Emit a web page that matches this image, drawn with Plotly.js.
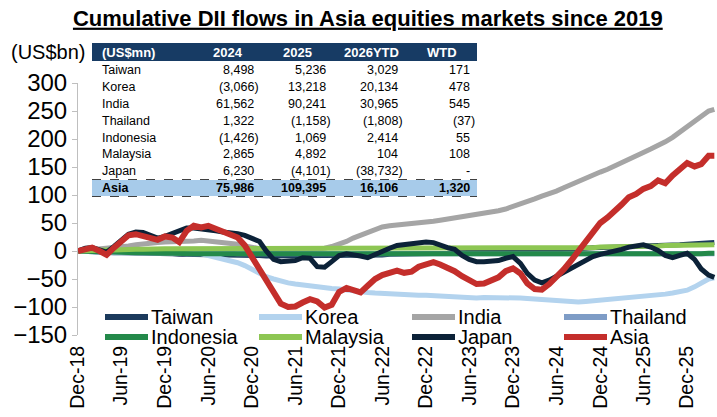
<!DOCTYPE html>
<html>
<head>
<meta charset="utf-8">
<script src="https://cdn.plot.ly/plotly-3.0.1.min.js"></script>
<style>html,body{margin:0;padding:0;background:#fff;}#chart{width:717px;height:417px;}</style>
</head>
<body>
<div id="chart"></div>
<script>
// ---------- DATA (US$bn, cumulative, monthly from Dec-18) ----------
const seriesNames = ['Taiwan','Korea','India','Thailand','Indonesia','Malaysia','Japan','Asia'];
const seriesColors = ['#1B3A5C','#B3D3EE','#A5A5A5','#7E9CC6','#23894A','#8DC653','#0C2238','#C42E2B'];

const taiwan = [0,-1,-1,-2,-2,-3,-3,-3,-4,-4,-4,-5,
  -5,-5,-6,-6,-6,-7,-7,-7,-7,-8,-8,-8,
  -8,-8,-9,-9,-9,-9,-9,-9,-9,-9,-9,-9,
  -9,-8,-8,-8,-7,-7,-7,-6,-6,-6,-5,-5,
  -5,-4,-4,-4,-3,-3,-3,-3,-2,-2,-2,-2,
  -2,-1,0,0,1,1,2,3,3,4,5,6,
  6,7,7,8,8,8,9,9,10,10,11,11,
  12,13,14,15,15];
const korea = [0,-1,-2,-2,-3,-3,-3,-3,-3,-2,-3,-3,
  -4,-4,-4,-5,-4,-5,-8,-11,-14,-17,-21,-26,
  -33,-40,-46,-50,-54,-57,-59,-61,-63,-64,-66,-67,
  -68,-70,-71,-73,-74,-75,-76,-77,-77,-78,-78,-79,
  -79,-80,-80,-81,-82,-83,-84,-84,-83,-83,-82,-82,
  -83,-84,-85,-86,-87,-88,-88,-89,-90,-91,-90,-89,
  -88,-87,-86,-85,-84,-83,-82,-81,-79,-77,-75,-73,
  -70,-64,-57,-50,-48];
const india = [0,1,2,3,4,5,7,9,11,13,14,15,
  16,16,17,18,18,19,18,17,16,14,12,9,
  6,4,2,1,0,0,0,1,2,3,5,8,
  12,17,23,28,33,38,43,45,46,47,48,50,
  51,53,55,57,59,61,64,66,68,70,72,75,
  79,83,88,93,98,102,107,113,119,124,129,135,
  141,146,152,158,164,170,176,182,188,195,203,212,
  222,232,241,250,253];
const thailand = [0,-1,-1,-1,-2,-2,-2,-2,-3,-3,-3,-3,
  -3,-3,-4,-4,-4,-4,-4,-4,-4,-4,-5,-5,
  -5,-5,-5,-5,-5,-5,-5,-5,-5,-5,-5,-5,
  -5,-5,-5,-4,-4,-4,-4,-4,-4,-4,-4,-4,
  -4,-4,-4,-4,-4,-4,-4,-4,-4,-4,-4,-4,
  -4,-4,-4,-4,-4,-3,-3,-3,-3,-3,-3,-3,
  -3,-3,-3,-3,-3,-3,-4,-4,-4,-4,-4,-4,
  -4,-5,-5,-5,-5];
const indonesia = [0,-1,-1,-2,-2,-2,-3,-3,-3,-3,-4,-4,
  -4,-4,-5,-5,-5,-5,-5,-6,-6,-6,-6,-6,
  -6,-6,-6,-6,-6,-6,-6,-6,-6,-6,-6,-6,
  -6,-6,-6,-6,-6,-6,-6,-6,-6,-6,-6,-6,
  -6,-6,-6,-6,-6,-6,-6,-6,-6,-6,-6,-6,
  -6,-6,-6,-6,-7,-7,-7,-7,-7,-7,-7,-7,
  -7,-7,-7,-7,-7,-7,-7,-6,-6,-6,-6,-6,
  -6,-5,-5,-4,-4];
const malaysia = [0,1,1,2,2,2,3,3,3,3,4,4,
  4,4,4,4,4,4,4,4,4,4,4,4,
  4,4,4,4,4,4,4,4,4,4,4,4,
  4,4,4,4,4,4,4,4,4,4,4,4,
  4,4,4,4,4,4,4,4,4,4,4,4,
  4,4,4,5,5,5,5,5,6,6,6,6,
  7,7,7,8,8,8,9,9,9,10,10,10,
  10,10,10,11,11];
const japan = [0,5,6,1,-2,8,19,30,34,33,28,23,
  26,31,36,41,41,40,37,36,34,33,31,28,
  22,17,0,-15,-19,-19,-17,-12,-13,-28,-29,-19,
  -8,-5,-6,-9,-12,-6,1,5,10,12,14,15,
  16,15,10,6,3,-8,-15,-19,-19,-19,-17,-13,
  -10,-22,-40,-52,-57,-52,-45,-40,-32,-24,-17,-10,
  -6,-3,-2,3,7,9,11,7,1,-8,-12,-8,
  -4,-15,-32,-43,-47];
const asia = [0,4,6,0,-7,6,16,28,30,26,23,20,
  26,24,16,36,45,42,45,40,34,29,24,10,
  -12,-35,-52,-75,-94,-100,-99,-92,-86,-90,-101,-96,
  -73,-66,-69,-74,-62,-50,-43,-40,-35,-39,-37,-28,
  -24,-20,-24,-29,-36,-45,-52,-59,-58,-53,-47,-36,
  -31,-40,-58,-68,-69,-59,-47,-33,-17,-1,16,34,
  50,60,70,83,96,102,111,116,126,121,135,147,
  157,151,155,170,170];
const lastDate = '2026-04-24';

const tickVals = ['2018-12-31','2019-06-30','2019-12-31','2020-06-30','2020-12-31','2021-06-30','2021-12-31','2022-06-30','2022-12-31','2023-06-30','2023-12-31','2024-06-30','2024-12-31','2025-06-30','2025-12-31'];
const tickText = ['Dec-18','Jun-19','Dec-19','Jun-20','Dec-20','Jun-21','Dec-21','Jun-22','Dec-22','Jun-23','Dec-23','Jun-24','Dec-24','Jun-25','Dec-25'];

// table
const tableHeader = ['(US$mn)','2024','2025','2026YTD','WTD'];
const tableRows = ['Taiwan','Korea','India','Thailand','Indonesia','Malaysia','Japan','Asia'];
const col2024 = ['8,498','(3,066)','61,562','1,322','(1,426)','2,865','6,230','75,986'];
const col2025 = ['5,236','13,218','90,241','(1,158)','1,069','4,892','(4,101)','109,395'];
const col2026 = ['3,029','20,134','30,965','(1,808)','2,414','104','(38,732)','16,106'];
const colWTD = ['171','478','545','(37)','55','108','-','1,320'];

// ---------- BUILD ----------
const allSeries = [taiwan,korea,india,thailand,indonesia,malaysia,japan,asia];
const dates = [];
for (let m = 0; m < asia.length - 1; m++) {
  const d = new Date(Date.UTC(2018, 11 + m + 1, 0));
  dates.push(d.toISOString().slice(0,10));
}
dates.push(lastDate);

const FONT = 'Liberation Sans, Arial, sans-serif';
const traces = allSeries.map((ys, i) => ({
  type: 'scatter', mode: 'lines', name: seriesNames[i],
  x: dates, y: ys,
  line: {color: seriesColors[i], width: i === 7 ? 6 : 5},
  showlegend: false,
  hoverinfo: 'skip'
}));

// plot area in pixels: x 78..716, y 83..335
const L = 78, R = 716, T = 83, B = 335;
const PX = p => (p - L) / (R - L);
const PY = p => (B - p) / (B - T);

const shapes = [];
const annotations = [];

// table geometry
const tL = 92, tR = 477;
shapes.push({type:'rect', xref:'paper', yref:'paper', x0:PX(tL), x1:PX(tR), y0:PY(61), y1:PY(43), fillcolor:'#173B64', line:{width:0}, layer:'above'});
shapes.push({type:'rect', xref:'paper', yref:'paper', x0:PX(tL), x1:PX(tR), y0:PY(196), y1:PY(180), fillcolor:'#A7CBEA', line:{width:0}, layer:'above'});
[179.5, 196.5].forEach(yy => shapes.push({type:'line', xref:'paper', yref:'paper', x0:PX(tL), x1:PX(tR), y0:PY(yy), y1:PY(yy), line:{color:'#404040', width:1, dash:'dash'}, layer:'above'}));

const headerX = [100, 228, 297, 371, 442];
tableHeader.forEach((h, j) => annotations.push({
  xref:'paper', yref:'paper', x:PX(headerX[j]), y:PY(52.5), text:'<b>'+h+'</b>', showarrow:false,
  xanchor: j === 0 ? 'left' : 'center', yanchor:'middle', font:{family:FONT, size:13, color:'#ffffff'}
}));
const rowY = [70.5, 87.2, 104, 120.8, 137.6, 154.4, 171.2, 188];
const colRight = [256, 328, 400, 472];
const cols = [col2024, col2025, col2026, colWTD];
tableRows.forEach((r, i) => {
  const bold = r === 'Asia';
  const wrap = s => bold ? '<b>' + s + '</b>' : s;
  annotations.push({xref:'paper', yref:'paper', x:PX(100), y:PY(rowY[i]), text:wrap(r), showarrow:false,
    xanchor:'left', yanchor:'middle', font:{family:FONT, size:12.5, color:'#000'}});
  cols.forEach((c, j) => {
    const v = c[i];
    const neg = v.charAt(0) === '(';
    annotations.push({xref:'paper', yref:'paper', x:PX(colRight[j] + (neg ? 5 : 0)), y:PY(rowY[i]), text:wrap(v), showarrow:false,
      xanchor:'right', yanchor:'middle', font:{family:FONT, size:12.5, color:'#000'}});
  });
});

// unit label
annotations.push({xref:'paper', yref:'paper', x:PX(48), y:PY(52), text:'(US$bn)', showarrow:false,
  xanchor:'center', yanchor:'middle', font:{family:FONT, size:20, color:'#000'}});

// legend (2 rows x 4 columns) drawn from series names/colours
const legColX = [105, 259, 412, 564];
const legRowY = [317, 337];
seriesNames.forEach((n, i) => {
  const cx = legColX[i % 4], cy = legRowY[Math.floor(i / 4)];
  shapes.push({type:'line', xref:'paper', yref:'paper', x0:PX(cx), x1:PX(cx + 43), y0:PY(cy), y1:PY(cy),
    line:{color: seriesColors[i], width: 6}, layer:'above'});
  annotations.push({xref:'paper', yref:'paper', x:PX(cx + 44), y:PY(cy), text:n, showarrow:false,
    xanchor:'left', yanchor:'middle', font:{family:FONT, size:20, color:'#000'}});
});

const layout = {
  width: 717, height: 417,
  margin: {l: L, r: 717 - R, t: T, b: 417 - B, pad: 0},
  paper_bgcolor: '#ffffff', plot_bgcolor: '#ffffff',
  font: {family: FONT, size: 20, color: '#000'},
  title: {text: '<b><u>Cumulative DII flows in Asia equities markets since 2019</u></b>',
    font: {family: FONT, size: 22, color: '#000'}, x: 0.513, xanchor: 'center', y: 1 - 18/417, yanchor: 'middle', xref: 'container', yref: 'container'},
  xaxis: {type: 'date', range: ['2018-12-31', '2026-05-01'], tickvals: tickVals, ticktext: tickText,
    tickangle: -90, showgrid: false, zeroline: false, showline: false, ticks: '', ticklabelstandoff: 6,
    tickfont: {family: FONT, size: 19.5, color: '#000'}, fixedrange: true},
  yaxis: {range: [-150, 300], tickvals: [-150,-100,-50,0,50,100,150,200,250,300], showgrid: false, zeroline: false,
    showline: true, linecolor: '#BFBFBF', linewidth: 1, ticks: 'outside', ticklen: 5, tickcolor: '#BFBFBF',
    tickfont: {family: FONT, size: 24, color: '#000'}, fixedrange: true},
  shapes: shapes,
  annotations: annotations,
  showlegend: false
};

Plotly.newPlot('chart', traces, layout, {displayModeBar: false, staticPlot: true});
</script>
</body>
</html>
